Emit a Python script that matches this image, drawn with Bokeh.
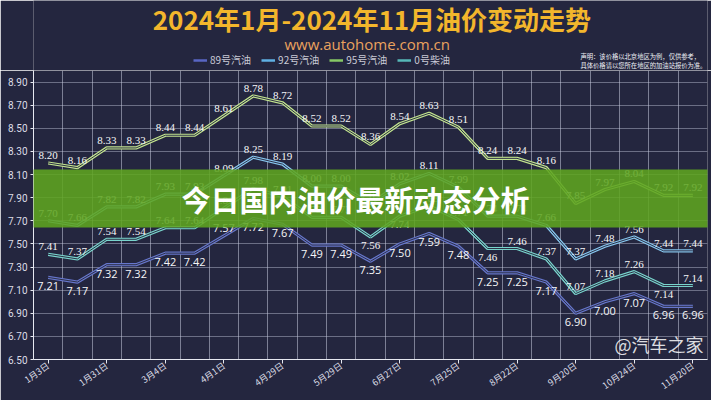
from bokeh.plotting import figure
from bokeh.layouts import column
from bokeh.models import (Range1d, FixedTicker, PrintfTickFormatter, Legend, LegendItem,
                          Label, BoxAnnotation, ColumnDataSource)
from bokeh.core.properties import value
from bokeh.embed import file_html
from bokeh.resources import INLINE

# ---------------- data ----------------
dates = ["1月3日", "1月17日", "1月31日", "2月20日", "3月4日", "3月18日", "4月1日", "4月16日",
         "4月29日", "5月15日", "5月29日", "6月13日", "6月27日", "7月10日", "7月25日", "8月8日",
         "8月22日", "9月5日", "9月20日", "10月10日", "10月24日", "11月7日", "11月20日"]
p89 = [7.21, 7.17, 7.32, 7.32, 7.42, 7.42, 7.57, 7.72, 7.67, 7.49, 7.49, 7.35, 7.50, 7.59,
       7.48, 7.25, 7.25, 7.17, 6.90, 7.00, 7.07, 6.96, 6.96]
p92 = [7.70, 7.66, 7.82, 7.82, 7.93, 7.93, 8.09, 8.25, 8.19, 8.00, 8.00, 7.85, 8.02, 8.11,
       7.99, 7.74, 7.74, 7.66, 7.37, 7.48, 7.56, 7.44, 7.44]
p95 = [8.20, 8.16, 8.33, 8.33, 8.44, 8.44, 8.61, 8.78, 8.72, 8.52, 8.52, 8.36, 8.54, 8.63,
       8.51, 8.24, 8.24, 8.16, 7.85, 7.97, 8.04, 7.92, 7.92]
p0 = [7.41, 7.37, 7.54, 7.54, 7.64, 7.64, 7.81, 7.98, 7.91, 7.73, 7.73, 7.56, 7.74, 7.83,
      7.71, 7.46, 7.46, 7.37, 7.07, 7.18, 7.26, 7.14, 7.14]
series_names = ["89号汽油", "92号汽油", "95号汽油", "0号柴油"]
y_ticks = [6.5, 6.7, 6.9, 7.1, 7.3, 7.5, 7.7, 7.9, 8.1, 8.3, 8.5, 8.7, 8.9]
title_text = "2024年1月-2024年11月油价变动走势"
subtitle_text = "www.autohome.com.cn"
note_lines = ["声明：该价格以北京地区为例，仅供参考，", "具体价格请以您所在地区的加油站报价为准。"]
banner_text = "今日国内油价最新动态分析"
watermark_text = "@汽车之家"

# ---------------- style ----------------
BG = "#24263f"
GRID = "#c4c8dc"
AXIS = "#e6e8f0"
TXT = "#dcdde6"
INNER = "#2c2f46"
colors = {"89号汽油": "#6676cc", "92号汽油": "#86c6ee", "95号汽油": "#c2e48e", "0号柴油": "#78d4cc"}
legend_colors = {"89号汽油": "#5866c4", "92号汽油": "#5fb0e4", "95号汽油": "#86c866", "0号柴油": "#56b8b8"}
label_fonts = {"89号汽油": "Open Sans", "92号汽油": "Liberation Serif",
               "95号汽油": "Liberation Serif", "0号柴油": "Liberation Serif"}
# default label side per series, with exceptions (index -> side)
label_side = {"89号汽油": ("below", {6: "above"}),
              "92号汽油": ("above", {}),
              "95号汽油": ("above", {}),
              "0号柴油": ("above", {11: "below", 12: "below", 15: "below", 21: "below"})}

n = len(dates)
xs = list(range(n))
W = 711
HEAD_H = 70
MAIN_H = 330

# ---------------- header (title, url, legend, note) ----------------
h = figure(width=W, height=HEAD_H, output_backend="svg", toolbar_location=None,
           x_range=Range1d(0, W), y_range=Range1d(HEAD_H, 0),
           x_axis_type=None, y_axis_type=None,
           background_fill_color=BG, border_fill_color=BG, outline_line_color=None,
           min_border=0, min_border_left=0, min_border_right=0,
           min_border_top=0, min_border_bottom=0)
h.grid.visible = False
h.text(x=[357], y=[18], text=[title_text], text_font=value("Noto Sans CJK SC"),
       text_font_style="bold", text_font_size="26px", text_color="#f3b62c",
       text_align="center", text_baseline="middle")
h.text(x=[352], y=[43], text=[subtitle_text], text_font=value("Open Sans"),
       text_font_size="15px", text_color="#eaa25e",
       text_align="center", text_baseline="middle")
h.text(x=[577, 577], y=[56, 65], text=note_lines, text_font=value("Noto Sans CJK SC"),
       text_font_size="6.3px", text_color="#eef0f6",
       text_align="left", text_baseline="middle")
legend_items = []
for name in series_names:
    # legend proxies, placed outside the visible header range
    r1 = h.line(x=[-50, -40], y=[-50, -50], line_color=legend_colors[name], line_width=2.5)
    legend_items.append(LegendItem(label=name, renderers=[r1]))
legend = Legend(items=legend_items, orientation="horizontal", location=(160, 3),
                label_text_font="Noto Sans CJK SC", label_text_font_size="10px",
                label_text_color="#c9cad6", glyph_width=14, glyph_height=8,
                label_height=10, label_standoff=3, spacing=10, padding=0, margin=0,
                background_fill_alpha=0, border_line_alpha=0)
h.add_layout(legend)

# ---------------- main chart ----------------
p = figure(width=W, height=MAIN_H, output_backend="svg", toolbar_location=None,
           x_range=Range1d(-0.5, n - 0.5), y_range=Range1d(6.5, 9.0),
           background_fill_color=BG, border_fill_color=BG, outline_line_color=None,
           min_border_left=33, min_border_right=4, min_border_top=0, min_border_bottom=40)

xa = p.xaxis[0]
xa.ticker = FixedTicker(ticks=list(range(0, n, 2)))
xa.major_label_overrides = {i: dates[i] for i in range(0, n, 2)}
xa.major_label_orientation = 0.62
xa.major_label_text_font = "Noto Sans CJK SC"
xa.major_label_text_font_size = "9px"
xa.major_label_text_color = TXT
xa.major_label_standoff = 1
xa.axis_line_color = AXIS
xa.major_tick_line_color = AXIS
xa.major_tick_out = 4
xa.major_tick_in = 0
xa.minor_tick_line_color = None

ya = p.yaxis[0]
ya.ticker = FixedTicker(ticks=y_ticks)
ya.formatter = PrintfTickFormatter(format="%.2f")
ya.major_label_text_font = "Roboto"
ya.major_label_text_font_size = "10px"
ya.major_label_text_color = TXT
ya.major_label_standoff = 3
ya.axis_line_color = AXIS
ya.major_tick_line_color = AXIS
ya.major_tick_out = 3
ya.major_tick_in = 0
ya.minor_tick_line_color = None

p.xgrid.ticker = FixedTicker(ticks=[i - 0.5 for i in range(n + 1)])
p.xgrid.grid_line_color = GRID
p.xgrid.grid_line_alpha = 0.55
p.ygrid.ticker = FixedTicker(ticks=y_ticks)
p.ygrid.grid_line_color = GRID
p.ygrid.grid_line_alpha = 0.45

series_vals = {"89号汽油": p89, "92号汽油": p92, "95号汽油": p95, "0号柴油": p0}
for name in series_names:
    vals = series_vals[name]
    p.line(xs, vals, line_color=colors[name], line_width=3.2)
    p.line(xs, vals, line_color=INNER, line_width=1.0)

for name in series_names:
    vals = series_vals[name]
    default, exc = label_side[name]
    groups = {"above": ([], [], []), "below": ([], [], [])}
    for i, v in enumerate(vals):
        side = exc.get(i, default)
        g = groups[side]
        g[0].append(i); g[1].append(v); g[2].append("%.2f" % v)
    for side, (gx, gy, gt) in groups.items():
        if not gx:
            continue
        src = ColumnDataSource(dict(x=gx, y=gy, t=gt))
        p.text(x="x", y="y", text="t", source=src,
               text_font=value(label_fonts[name]), text_font_size="11px",
               text_color="#f6f6f8", text_align="center",
               text_baseline="bottom" if side == "above" else "top",
               y_offset=-4 if side == "above" else 5)

# green banner across the chart
p.add_layout(BoxAnnotation(left=-33, right=678, bottom=132, top=190,
                           left_units="screen", right_units="screen",
                           bottom_units="screen", top_units="screen",
                           fill_color="#5ea520", fill_alpha=0.88, line_color=None))
p.add_layout(Label(x=322, y=161, x_units="screen", y_units="screen", text=banner_text,
                   text_font="Noto Sans CJK SC", text_font_style="bold", text_font_size="29px",
                   text_color="#ffffff", text_align="center", text_baseline="middle"))

# watermark, kept inside the plotting frame at its bottom-right corner
p.add_layout(Label(x=670, y=3, x_units="screen", y_units="screen", text=watermark_text,
                   text_font="Noto Sans CJK SC", text_font_size="18px",
                   text_color="#ffffff", text_alpha=0.85, text_align="right",
                   text_baseline="bottom"))

layout = column(h, p, spacing=0)
open("out.html", "w").write(file_html(layout, INLINE))
